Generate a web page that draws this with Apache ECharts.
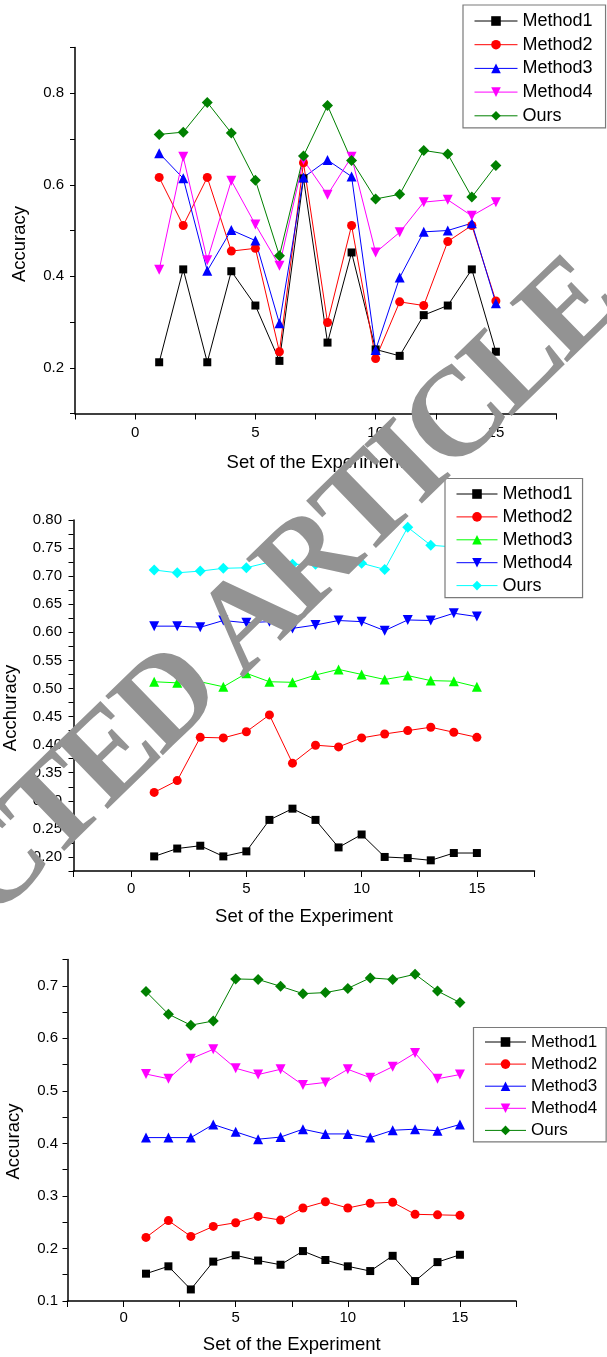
<!DOCTYPE html>
<html>
<head>
<meta charset="utf-8">
<script src="https://cdn.jsdelivr.net/npm/echarts@6/dist/echarts.min.js"></script>
<style>
html, body { margin: 0; padding: 0; background: #fff; }
#main { width: 607px; height: 1357px; }
</style>
</head>
<body>
<div id="main"></div>
<script>
var xs = [1, 2, 3, 4, 5, 6, 7, 8, 9, 10, 11, 12, 13, 14, 15];
var names = ['Method1', 'Method2', 'Method3', 'Method4', 'Ours'];
var xName = 'Set of the Experiment';
var yNames = ['Accuracy', 'Acchuracy', 'Accuracy'];

// 第一张图
var c1m1 = [0.212, 0.415, 0.212, 0.411, 0.336, 0.215, 0.614, 0.255, 0.452, 0.240, 0.226, 0.315, 0.336, 0.415, 0.235];
var c1m2 = [0.616, 0.511, 0.616, 0.455, 0.461, 0.235, 0.648, 0.299, 0.511, 0.220, 0.344, 0.336, 0.476, 0.511, 0.346];
var c1m3 = [0.669, 0.614, 0.412, 0.501, 0.478, 0.297, 0.616, 0.654, 0.618, 0.239, 0.397, 0.497, 0.500, 0.516, 0.341];
var c1m4 = [0.414, 0.661, 0.435, 0.609, 0.513, 0.423, 0.654, 0.578, 0.661, 0.452, 0.496, 0.562, 0.567, 0.532, 0.562];
var c1ours = [0.710, 0.715, 0.780, 0.713, 0.610, 0.445, 0.663, 0.773, 0.653, 0.569, 0.579, 0.675, 0.667, 0.573, 0.642];

// 第二张图
var c2m1 = [0.201, 0.215, 0.220, 0.201, 0.210, 0.266, 0.286, 0.266, 0.217, 0.240, 0.200, 0.198, 0.194, 0.207, 0.207];
var c2m2 = [0.315, 0.336, 0.413, 0.412, 0.423, 0.453, 0.367, 0.399, 0.396, 0.412, 0.419, 0.425, 0.431, 0.422, 0.413];
var c2m3 = [0.512, 0.510, 0.512, 0.503, 0.527, 0.512, 0.511, 0.524, 0.534, 0.525, 0.516, 0.523, 0.514, 0.513, 0.503];
var c2m4 = [0.611, 0.611, 0.609, 0.621, 0.617, 0.619, 0.607, 0.613, 0.621, 0.619, 0.603, 0.622, 0.621, 0.634, 0.628];
var c2ours = [0.711, 0.706, 0.709, 0.714, 0.715, 0.725, 0.721, 0.721, 0.724, 0.723, 0.712, 0.787, 0.755, 0.752, 0.752];

// 第三张图
var c3m1 = [0.152, 0.166, 0.122, 0.175, 0.187, 0.177, 0.169, 0.195, 0.178, 0.166, 0.157, 0.186, 0.138, 0.174, 0.188];
var c3m2 = [0.221, 0.253, 0.223, 0.242, 0.249, 0.261, 0.254, 0.277, 0.289, 0.277, 0.286, 0.288, 0.265, 0.264, 0.263];
var c3m3 = [0.411, 0.411, 0.411, 0.436, 0.422, 0.408, 0.412, 0.427, 0.418, 0.418, 0.411, 0.425, 0.427, 0.424, 0.436];
var c3m4 = [0.532, 0.523, 0.561, 0.579, 0.543, 0.531, 0.541, 0.511, 0.516, 0.541, 0.525, 0.546, 0.572, 0.523, 0.531];
var c3ours = [0.689, 0.646, 0.625, 0.633, 0.713, 0.712, 0.699, 0.685, 0.687, 0.695, 0.715, 0.712, 0.722, 0.690, 0.668];

var FONT = '"Liberation Sans", Arial, sans-serif';

function line(name, g, vals, color, symbol, size, rotate) {
  return {
    name: name + '#' + g,
    type: 'line',
    xAxisIndex: g,
    yAxisIndex: g,
    data: xs.map(function (x, i) { return [x, vals[i]]; }),
    symbol: symbol,
    symbolSize: size,
    symbolRotate: rotate || 0,
    showAllSymbol: true,
    lineStyle: { color: color, width: 1 },
    itemStyle: { color: color },
    emphasis: { disabled: true }
  };
}

function xAx(g, margin, gap) {
  return {
    type: 'value', gridIndex: g, min: -2.5, max: 17.5, interval: 2.5,
    name: xName, nameLocation: 'middle', nameGap: gap,
    nameTextStyle: { fontSize: 18.5, color: '#000', fontFamily: FONT },
    axisLine: { onZero: false, lineStyle: { color: '#000', width: 1.5 } },
    axisTick: { length: 6, lineStyle: { color: '#000', width: 1 } },
    axisLabel: {
      fontSize: 15, color: '#000', fontFamily: FONT, margin: margin,
      formatter: function (v) { return v % 5 === 0 ? String(v) : ''; }
    },
    splitLine: { show: false }
  };
}

function yAx(g, min, max, step, fmt, margin) {
  return {
    type: 'value', gridIndex: g, min: min, max: max, interval: step,
    axisLine: { show: true, onZero: false, lineStyle: { color: '#000', width: 1.5 } },
    axisTick: { show: true, length: 5, lineStyle: { color: '#000', width: 1 } },
    axisLabel: { fontSize: 15, color: '#000', fontFamily: FONT, margin: margin, formatter: fmt },
    splitLine: { show: false }
  };
}

function legend(g, left, top, pad, w, fs, gap) {
  return {
    orient: 'vertical', left: left, top: top, padding: pad,
    data: names.map(function (n) { return n + '#' + g; }),
    formatter: function (n) { return n.split('#')[0]; },
    itemWidth: w, itemHeight: 12, itemGap: gap,
    selectedMode: false,
    lineStyle: { width: 1 },
    backgroundColor: '#fff', borderColor: '#7a7a7a', borderWidth: 1.2,
    textStyle: { fontSize: fs, lineHeight: fs, color: '#000', fontFamily: FONT }
  };
}

function yTitle(text, x, y) {
  return {
    type: 'text', x: x, y: y, rotation: Math.PI / 2,
    style: { text: text, fill: '#000', font: '18.5px ' + FONT, align: 'center', verticalAlign: 'middle' }
  };
}

// 水印: 逐字排列, 字距比字体默认稍紧
function watermark(text, cx, cy, deg, font, squeeze) {
  var ctx = document.createElement('canvas').getContext('2d');
  ctx.font = font;
  var ws = text.split('').map(function (c) { return ctx.measureText(c).width * squeeze; });
  var total = ws.reduce(function (a, b) { return a + b; }, 0);
  var rad = deg * Math.PI / 180;
  var ux = Math.cos(rad), uy = -Math.sin(rad);
  var pos = -total / 2;
  var out = [];
  text.split('').forEach(function (c, i) {
    var off = pos + ws[i] / 2;
    pos += ws[i];
    if (c === ' ') return;
    out.push({
      type: 'text', x: cx + ux * off, y: cy + uy * off, rotation: rad, z: 100,
      style: { text: c, fill: '#939393', font: font, align: 'center', verticalAlign: 'middle' }
    });
  });
  return out;
}

var option = {
  animation: false,
  backgroundColor: '#fff',
  grid: [
    { left: 75, top: 47.5, width: 481, height: 366 },
    { left: 73.5, top: 520, width: 461, height: 351 },
    { left: 67.5, top: 959.5, width: 448.5, height: 341.5 }
  ],
  xAxis: [xAx(0, 12, 40), xAx(1, 10, 36), xAx(2, 9, 34.5)],
  yAxis: [
    yAx(0, 0.1, 0.9, 0.1, function (v) {
      var k = Math.round(v * 10);
      return (k % 2 === 0) ? v.toFixed(1) : '';
    }, 11),
    yAx(1, 0.175, 0.8, 0.025, function (v) {
      var k = Math.round(v * 1000);
      return (k % 50 === 0) ? v.toFixed(2) : '';
    }, 11.5),
    yAx(2, 0.1, 0.75, 0.05, function (v) {
      var k = Math.round(v * 100);
      return (k % 10 === 0) ? v.toFixed(1) : '';
    }, 9.5)
  ],
  legend: [
    legend(0, 463, 5, [7, 13, 3, 11], 43, 18, 5.7),
    legend(1, 445, 478.5, [6.5, 10, 3, 11], 41, 18, 4.9),
    legend(2, 473.5, 1027.5, [6, 9, 3, 11], 41, 17, 5.1)
  ],
  series: [
    line('Method1', 0, c1m1, '#000000', 'rect', 8),
    line('Method2', 0, c1m2, '#ff0000', 'circle', 9),
    line('Method3', 0, c1m3, '#0000ff', 'triangle', 10),
    line('Method4', 0, c1m4, '#ff00ff', 'triangle', 10, 180),
    line('Ours', 0, c1ours, '#008000', 'diamond', 11),

    line('Method1', 1, c2m1, '#000000', 'rect', 8),
    line('Method2', 1, c2m2, '#ff0000', 'circle', 9),
    line('Method3', 1, c2m3, '#00ff00', 'triangle', 10),
    line('Method4', 1, c2m4, '#0000ff', 'triangle', 10, 180),
    line('Ours', 1, c2ours, '#00ffff', 'diamond', 11),

    line('Method1', 2, c3m1, '#000000', 'rect', 8),
    line('Method2', 2, c3m2, '#ff0000', 'circle', 9),
    line('Method3', 2, c3m3, '#0000ff', 'triangle', 10),
    line('Method4', 2, c3m4, '#ff00ff', 'triangle', 10, 180),
    line('Ours', 2, c3ours, '#008000', 'diamond', 11)
  ],
  graphic: [
    yTitle(yNames[0], 19.5, 244),
    yTitle(yNames[1], 11, 708),
    yTitle(yNames[2], 13.5, 1141.5)
  ].concat(watermark('RETRACTED ARTICLE', 140, 732, 44.2,
    'bold 126px "Liberation Serif", "Times New Roman", serif', 0.92))
};

var chart = echarts.init(document.getElementById('main'));
chart.setOption(option);
</script>
</body>
</html>
